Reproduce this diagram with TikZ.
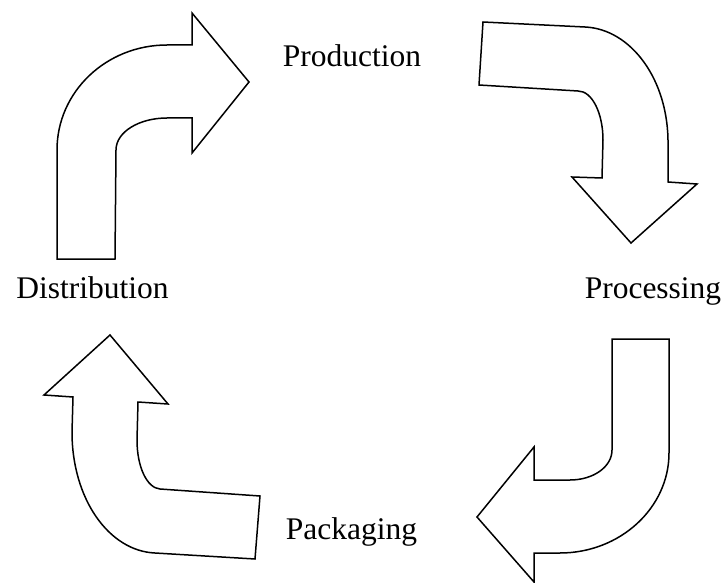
\documentclass[tikz,border=0pt]{standalone}
\usepackage{fontspec}
\setmainfont{Liberation Serif}
\begin{document}
\begin{tikzpicture}[x=1pt,y=-1pt,
  bentarrow/.style={draw=black,line width=1.5pt,line join=miter,fill=white},
  lbl/.style={anchor=base,inner sep=0pt,font=\fontsize{31.5}{38}\selectfont}]
\useasboundingbox (0,0) rectangle (726,583);
% top-left arrow (towards Production)
\draw[bentarrow] (57,259) -- (57,150)
  .. controls (57,92) and (106,45) .. (167,45)
  -- (192,45) -- (192,13) -- (249,82) -- (192,153) -- (192,118) -- (167,118)
  .. controls (139,118) and (116,132) .. (116,150)
  -- (115,259) -- cycle;
% top-right arrow (towards Processing)
\draw[bentarrow] (483,22) -- (585,27)
  .. controls (631,29) and (669,80) .. (668,145)
  -- (668,182) -- (697,184) -- (631,243) -- (572,177) -- (602,178) -- (603,140)
  .. controls (603,113) and (592,91) .. (578,91)
  -- (479,85) -- cycle;
% bottom-right arrow (towards Packaging)
\draw[bentarrow] (669,339) -- (669,453)
  .. controls (669,508) and (620,553) .. (560,553)
  -- (534,553) -- (534,582) -- (477,517) -- (534,447) -- (534,480) -- (570,480)
  .. controls (593,480) and (612,467) .. (612,450)
  -- (612,339) -- cycle;
% bottom-left arrow (towards Distribution)
\draw[bentarrow] (255,559) -- (155,553)
  .. controls (109,551) and (72,499) .. (72,432)
  -- (73,397) -- (44,395) -- (110,335) -- (168,404) -- (138,402) -- (137,440)
  .. controls (137,467) and (147,488) .. (160,489)
  -- (260,496) -- cycle;
% labels
\node[lbl] (production) at (352,66.7) {Production};
\node[lbl] (processing) at (653,298) {Processing};
\node[lbl] (packaging) at (351.5,539) {Packaging};
\node[lbl] (distribution) at (92.5,298) {Distribution};
\end{tikzpicture}
\end{document}
